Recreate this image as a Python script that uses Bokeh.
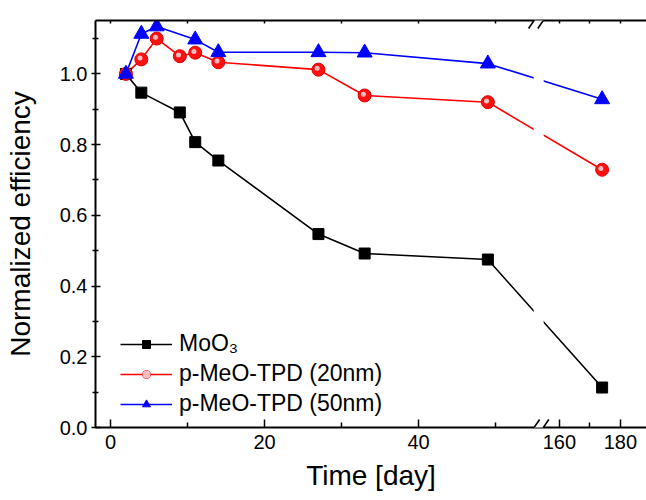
from bokeh.plotting import figure
from bokeh.models import (Range1d, LinearAxis, FixedTicker, Legend, LegendItem, Arrow,
                          NumeralTickFormatter)
from bokeh.embed import file_html
from bokeh.resources import INLINE

# ---- data ----
days_moo3 = [2, 4, 9, 11, 14, 27, 33, 49, 174]
eff_moo3 = [1.0, 0.947, 0.891, 0.807, 0.755, 0.547, 0.492, 0.475, 0.113]
days_tpd20 = [2, 4, 6, 9, 11, 14, 27, 33, 49, 174]
eff_tpd20 = [1.0, 1.041, 1.100, 1.050, 1.060, 1.033, 1.012, 0.939, 0.920, 0.729]
days_tpd50 = [2, 4, 6, 11, 14, 27, 33, 49, 174]
eff_tpd50 = [1.0, 1.113, 1.134, 1.097, 1.061, 1.061, 1.060, 1.029, 0.928]

x_major_ticks = [0, 20, 40, 160, 180]
x_minor_ticks = [10, 30, 50, 170]
y_major_ticks = [0.0, 0.2, 0.4, 0.6, 0.8, 1.0]
y_minor_ticks = [0.1, 0.3, 0.5, 0.7, 0.9, 1.1]
series_labels = ["MoO\u2083", "p-MeO-TPD (20nm)", "p-MeO-TPD (50nm)"]

# ---- broken x axis: days up to BREAK_AT, then resume at RESUME_AT compressed ----
BREAK_AT = 55.6
RESUME_AT = 153.2
RIGHT_SCALE = 0.396


def brk(xs):
    return [x if x <= BREAK_AT else BREAK_AT + (x - RESUME_AT) * RIGHT_SCALE for x in xs]


FONT = "Liberation Sans"
X0, X1 = -1.95, 69.6
Y0, Y1 = 0.0, 1.151

p = figure(frame_width=551, frame_height=407, x_range=Range1d(X0, X1), y_range=Range1d(Y0, Y1),
           output_backend="svg", toolbar_location=None,
           min_border_left=95, min_border_right=0, min_border_top=20, min_border_bottom=0,
           x_axis_label="Time [day]", y_axis_label="Normalized efficiency")
p.outline_line_color = None
p.xgrid.visible = False
p.ygrid.visible = False
p.background_fill_color = "white"
p.border_fill_color = "white"

xa = p.xaxis[0]
xa.ticker = FixedTicker(ticks=brk(x_major_ticks), minor_ticks=brk(x_minor_ticks))
xa.major_label_overrides = {t: str(v) for t, v in zip(brk(x_major_ticks), x_major_ticks)}
ya = p.yaxis[0]
ya.ticker = FixedTicker(ticks=y_major_ticks, minor_ticks=y_minor_ticks)
ya.formatter = NumeralTickFormatter(format="0.0")

for ax in (xa, ya):
    ax.axis_line_width = 2
    ax.axis_line_color = "black"
    ax.major_tick_line_width = 1.5
    ax.minor_tick_line_width = 1.5
    ax.major_label_text_font = FONT
    ax.major_label_text_font_size = "20px"
    ax.major_label_text_color = "black"
    ax.axis_label_text_font = FONT
    ax.axis_label_text_font_size = "28px"
    ax.axis_label_text_font_style = "normal"
    ax.axis_label_text_color = "black"

xa.major_tick_in = 8
xa.major_tick_out = 0
xa.minor_tick_in = 5
xa.minor_tick_out = 0
xa.major_label_standoff = 7
xa.axis_label_standoff = 8

ya.major_tick_in = 5
ya.major_tick_out = 4
ya.minor_tick_in = 3
ya.minor_tick_out = 3
ya.major_label_standoff = 4
ya.axis_label_standoff = 21

# top axis (ticks only)
top = LinearAxis(ticker=FixedTicker(ticks=brk(x_major_ticks), minor_ticks=brk(x_minor_ticks)))
top.major_label_overrides = {t: "" for t in brk(x_major_ticks)}
top.major_label_standoff = 0
top.major_label_text_font_size = "1px"
top.axis_line_width = 2
top.major_tick_in = 3
top.major_tick_out = 0
top.minor_tick_in = 3
top.minor_tick_out = 0
top.major_tick_line_width = 1.5
top.minor_tick_line_width = 1.5
p.add_layout(top, "above")

# ---- lines ----
l1 = p.line(brk(days_moo3), eff_moo3, line_color="black", line_width=1.6)
l2 = p.line(brk(days_tpd20), eff_tpd20, line_color="#ff0000", line_width=1.6)
l3 = p.line(brk(days_tpd50), eff_tpd50, line_color="#0000ff", line_width=1.6)

# gap of the lines at the axis break
p.quad(left=[BREAK_AT - 0.65], right=[BREAK_AT + 0.65], bottom=[Y0], top=[Y1],
       fill_color="white", line_color=None)

# ---- markers ----
m1 = p.scatter(brk(days_moo3), eff_moo3, marker="square", size=11,
               fill_color="black", line_color="black")
m2 = p.scatter(brk(days_tpd20), eff_tpd20, marker="circle", size=13,
               fill_color="#ff1010", line_color="#e00000", line_width=1)
px_per_x = 7.7
px_per_y = 353.3
hl_x = [v - 1.3 / px_per_x for v in brk(days_tpd20)]
hl_y = [v + 1.3 / px_per_y for v in eff_tpd20]
m2h = p.scatter(hl_x, hl_y, marker="circle", size=5, fill_color="#ffd0d0",
                line_color=None, fill_alpha=0.9)
m3 = p.scatter(brk(days_tpd50), eff_tpd50, marker="triangle", size=15,
               fill_color="#0000ff", line_color="#0000ff")

legend = Legend(items=[
    LegendItem(label=series_labels[0], renderers=[l1, m1]),
    LegendItem(label=series_labels[1], renderers=[l2, m2, m2h]),
    LegendItem(label=series_labels[2], renderers=[l3, m3]),
], location=(25, 10))
legend.glyph_width = 52
legend.glyph_height = 20
legend.label_standoff = 7
legend.spacing = 3
legend.padding = 0
legend.margin = 0
legend.border_line_color = None
legend.background_fill_alpha = 0
legend.label_text_font = FONT
legend.label_text_font_size = "23px"
legend.label_text_color = "black"
p.add_layout(legend)

# ---- break marks ("//") on the top and bottom axes ----
dxs = 5.5 / px_per_x
dys = 8.0 / px_per_y
gap = 0.6
for yb in (Y0, Y1):
    p.add_layout(Arrow(end=None, x_start=BREAK_AT - gap, y_start=yb, x_end=BREAK_AT + gap, y_end=yb,
                       line_color="white", line_width=4, level="overlay"))
    for c in (BREAK_AT - gap, BREAK_AT + gap):
        p.add_layout(Arrow(end=None, x_start=c - dxs, y_start=yb - dys, x_end=c + dxs, y_end=yb + dys,
                           line_color="black", line_width=1.6, level="overlay"))

open("out.html", "w").write(file_html(p, INLINE))
